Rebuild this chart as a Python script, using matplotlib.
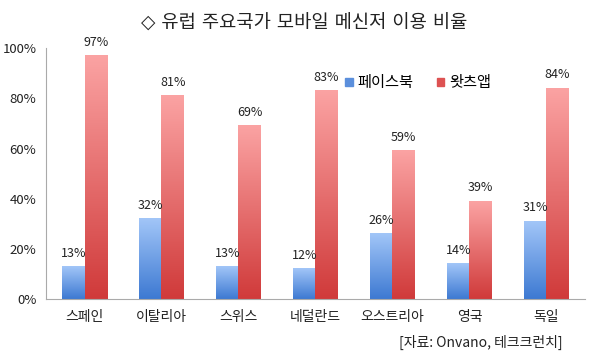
import numpy as np
import matplotlib
matplotlib.use('Agg')
import matplotlib.pyplot as plt
from matplotlib.colors import LinearSegmentedColormap
from matplotlib.patches import Rectangle

plt.rcParams['font.family'] = ['Noto Sans CJK KR', 'DejaVu Sans']

# data
countries = ['스페인', '이탈리아', '스위스', '네덜란드', '오스트리아', '영국', '독일']
facebook = [13, 32, 13, 12, 26, 14, 31]
whatsapp = [97, 81, 69, 83, 59, 39, 84]
series_names = ['페이스북', '왓츠앱']

blue_map = LinearSegmentedColormap.from_list('b', ['#3d79d2', '#a2c6f8'])
red_map = LinearSegmentedColormap.from_list('r', ['#d03a3a', '#fba3a3'])

fig = plt.figure(figsize=(6.08, 3.54), dpi=100)
ax = fig.add_axes([0.0757, 0.155, 0.8863, 0.709])

x = np.arange(len(countries))
w = 0.29
b1 = ax.bar(x - w / 2, facebook, w, color='none', label=series_names[0])
b2 = ax.bar(x + w / 2, whatsapp, w, color='none', label=series_names[1])

grad = np.linspace(0, 1, 256).reshape(-1, 1)
for bars, cmap in [(b1, blue_map), (b2, red_map)]:
    for r in bars:
        x0, y0 = r.get_x(), r.get_y()
        ax.imshow(grad, cmap=cmap, origin='lower', aspect='auto',
                  extent=[x0, x0 + r.get_width(), y0, y0 + r.get_height()],
                  zorder=2)
    for r in bars:
        ax.annotate('%d%%' % r.get_height(),
                    (r.get_x() + r.get_width() / 2, r.get_height()),
                    xytext=(0, 5), textcoords='offset points',
                    ha='center', va='bottom', fontsize=9, color='#222222')

ax.set_xlim(-0.5, 6.5)
ax.set_ylim(0, 100)
ax.set_yticks(range(0, 101, 20))
ax.set_yticklabels(['%d%%' % v for v in range(0, 101, 20)], fontsize=9.5)
ax.set_xticks(x)
ax.set_xticklabels(countries, fontsize=10)
ax.tick_params(length=0, pad=8, colors='#222222')
ax.tick_params(axis='y', pad=7)
for s in ['top', 'right']:
    ax.spines[s].set_visible(False)
for s in ['left', 'bottom']:
    ax.spines[s].set_color('#aaaaaa')

handles = [Rectangle((0, 0), 1, 1, color='#5b8fdc'),
           Rectangle((0, 0), 1, 1, color='#dd5252')]
ax.legend(handles, series_names, loc='upper left', bbox_to_anchor=(0.53, 0.95),
          ncol=2, frameon=False, fontsize=11, handlelength=0.5, handleheight=0.5,
          handletextpad=0.3, columnspacing=1.5)

fig.text(0.5, 0.935, '◇ 유럽 주요국가 모바일 메신저 이용 비율', ha='center', va='center',
         fontsize=13.5, color='#222222', family=['DejaVu Sans', 'Noto Sans CJK KR'])
fig.text(0.925, 0.033, '[자료: Onvano, 테크크런치]', ha='right', va='center',
         fontsize=10, color='#222222')

fig.savefig('out.png', dpi=100)
